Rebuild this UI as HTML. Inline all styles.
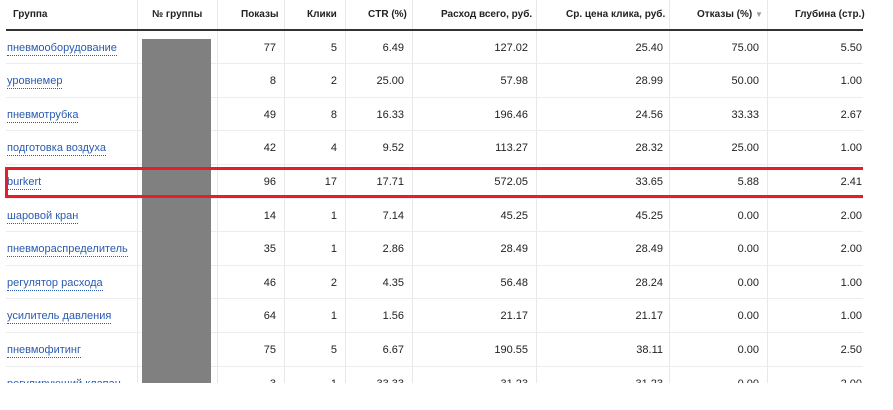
<!DOCTYPE html>
<html><head><meta charset="utf-8"><style>
html,body{margin:0;padding:0;background:#fff;width:893px;height:410px;overflow:hidden;font-family:"Liberation Sans","DejaVu Sans",sans-serif;}
#wrap{position:absolute;left:0;top:0;width:893px;height:383px;overflow:hidden;}
.h{position:absolute;top:9px;font-size:10px;font-weight:bold;color:#222;white-space:nowrap;}
.c{position:absolute;font-size:11px;color:#222;white-space:nowrap;text-align:right;}
.l{position:absolute;left:7px;font-size:11px;color:#2a5bb0;white-space:nowrap;border-bottom:1px dotted #2a5bb0;line-height:13px;}
.vl{position:absolute;top:0;width:1px;height:383px;background:#e8e8e8;}
.sep{position:absolute;left:6px;width:857px;height:1px;background:#ececec;}
</style></head><body>
<div id="wrap">
<div class="vl" style="left:137px"></div><div class="vl" style="left:217px"></div><div class="vl" style="left:284px"></div><div class="vl" style="left:345px"></div><div class="vl" style="left:412px"></div><div class="vl" style="left:536px"></div><div class="vl" style="left:669px"></div><div class="vl" style="left:767px"></div>
<div class="h" style="left:13px">Группа</div>
<div class="h" style="left:152px">№ группы</div>
<div class="h" style="left:241px">Показы</div>
<div class="h" style="left:307px">Клики</div>
<div class="h" style="left:368px">CTR (%)</div>
<div class="h" style="left:441px">Расход всего, руб.</div>
<div class="h" style="left:566px">Ср. цена клика, руб.</div>
<div class="h" style="left:697px">Отказы (%) <span style="color:#999;font-size:8px">▼</span></div>
<div class="h" style="left:795px">Глубина (стр.)</div>
<div style="position:absolute;left:6px;top:29px;width:857px;height:2px;background:#333"></div>
<div id="rows"></div>
<div style="position:absolute;left:142px;top:39px;width:69px;height:350px;background:#808080"></div>
<div style="position:absolute;left:5px;top:167px;width:858px;height:31px;box-sizing:border-box;border:3px solid #e61e2a;border-right:none"></div>
</div>
<script>
const groups=["пневмооборудование","уровнемер","пневмотрубка","подготовка воздуха","burkert","шаровой кран","пневмораспределитель","регулятор расхода","усилитель давления","пневмофитинг","регулирующий клапан"];
const shows=["77","8","49","42","96","14","35","46","64","75","3"];
const clicks=["5","2","8","4","17","1","1","2","1","5","1"];
const ctr=["6.49","25.00","16.33","9.52","17.71","7.14","2.86","4.35","1.56","6.67","33.33"];
const cost=["127.02","57.98","196.46","113.27","572.05","45.25","28.49","56.48","21.17","190.55","31.23"];
const cpc=["25.40","28.99","24.56","28.32","33.65","45.25","28.49","28.24","21.17","38.11","31.23"];
const bounce=["75.00","50.00","33.33","25.00","5.88","0.00","0.00","0.00","0.00","0.00","0.00"];
const depth=["5.50","1.00","2.67","1.00","2.41","2.00","2.00","1.00","1.00","2.50","2.00"];
const cols=[[shows,276,'impressions'],[clicks,337,'clicks'],[ctr,404,'ctr'],[cost,528,'cost'],[cpc,663,'avg-cpc'],[bounce,759,'bounce'],[depth,862,'depth']];
const rows=document.getElementById('rows');
groups.forEach((g,i)=>{
  const y=41.5+i*33.6;
  if(i>0){const s=document.createElement('div');s.className='sep';s.style.top=(y-12)+'px';
  
  
  rows.appendChild(s);}
  const a=document.createElement('div');a.className='l';a.style.top=y+'px';a.textContent=g;
  
  
  rows.appendChild(a);
  cols.forEach(([arr,r,n])=>{
    const d=document.createElement('div');d.className='c';d.style.top=y+'px';d.style.right=(893-r)+'px';d.textContent=arr[i];
    
    
    rows.appendChild(d);
  });
});
</script>
</body></html>
